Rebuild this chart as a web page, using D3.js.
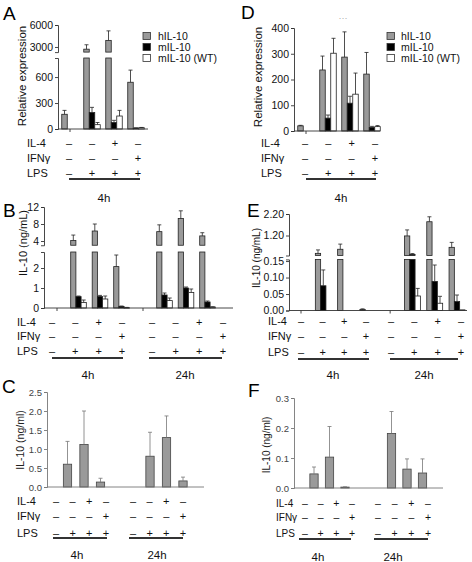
<!DOCTYPE html>
<html><head><meta charset="utf-8">
<script src="https://cdn.jsdelivr.net/npm/d3@7"></script>
<style>
body{margin:0;background:#fff}
svg{display:block}
text{font-family:"Liberation Sans",Arial,Helvetica,sans-serif}
</style>
</head><body>
<svg id="chart" width="472" height="562"></svg>
<script>
// ---------- shared labels ----------
const seriesNames = ["hIL-10", "mIL-10", "mIL-10 (WT)"];
const rowLabels = ["IL-4", "IFNγ", "LPS"];
const il4Signs = ["–", "–", "+", "–"];
const ifnSigns = ["–", "–", "–", "+"];
const lpsSigns = ["–", "+", "+", "+"];
const timeLabels = ["4h", "24h"];

// ---------- Panel A (relative expression, 4h) ----------
const aTicksLow = [0, 300, 600];
const aTicksHigh = [3000, 6000];
const aHIL = [170, 2700, 3900, 540];
const aHILsd = [45, 600, 1300, 140];
const aMIL = [0, 190, 75, 10];
const aMILsd = [0, 60, 25, 4];
const aWT = [0, 50, 150, 15];
const aWTsd = [0, 25, 65, 3];

// ---------- Panel D ----------
const dTicks = [0, 100, 200, 300, 400];
const dHIL = [20, 237, 287, 221];
const dHILsd = [2, 54, 98, 84];
const dMIL = [0, 50, 108, 14];
const dMILsd = [0, 12, 27, 4];
const dWT = [0, 302, 143, 17];
const dWTsd = [0, 58, 82, 4];

// ---------- Panel B (IL-10 ng/mL, 4h & 24h) ----------
const bTicksLow = [0, 1, 2];
const bTicksHigh = [4, 8, 12];
const bHIL = [0, 4.1, 6.35, 2.07, 0, 6.2, 9.3, 5.2];
const bHILsd = [0, 1.3, 1.65, 0.58, 0, 1.6, 1.8, 0.75];
const bMIL = [0, 0.57, 0.57, 0.08, 0, 0.65, 1.0, 0.3];
const bMILsd = [0, 0.03, 0.06, 0.02, 0, 0.1, 0.05, 0.05];
const bWT = [0, 0.28, 0.45, 0.02, 0, 0.37, 0.78, 0.05];
const bWTsd = [0, 0.12, 0.15, 0.01, 0, 0.13, 0.17, 0.01];

// ---------- Panel E ----------
const eTicksLow = [0, 0.05, 0.10, 0.15];
const eTicksHigh = [1.2, 2.2];
const eHIL = [0, 0.37, 0.56, 0.003, 0, 1.18, 1.84, 0.65];
const eHILsd = [0, 0.16, 0.24, 0.002, 0, 0.28, 0.23, 0.23];
const eMIL = [0, 0.075, 0, 0, 0, 0.32, 0.088, 0.027];
const eMILsd = [0, 0.048, 0, 0, 0, 0.04, 0.05, 0.02];
const eWT = [0, 0, 0, 0, 0, 0.044, 0.022, 0.002];
const eWTsd = [0, 0, 0, 0, 0, 0.023, 0.021, 0];

// ---------- Panel C ----------
const cTicks = [0, 0.5, 1.0, 1.5, 2.0, 2.5];
const cSlots = [0, 1, 2, 3, 5, 6, 7, 8];
const cVals = [0, 0.6, 1.12, 0.13, 0, 0.81, 1.3, 0.16];
const cSd = [0, 0.6, 0.88, 0.1, 0, 0.63, 0.57, 0.1];

// ---------- Panel F ----------
const fTicks = [0, 0.1, 0.2, 0.3];
const fSlots = [0, 1, 2, 3, 5, 6, 7, 8];
const fVals = [0, 0.047, 0.103, 0.003, 0, 0.182, 0.063, 0.05];
const fSd = [0, 0.023, 0.102, 0.001, 0, 0.073, 0.034, 0.047];

// =====================================================
const svg = d3.select("#chart");
const FILL = ["#9a9a9a", "#000000", "#ffffff"];

function makeY(loDom, loRange, hiDom, hiRange) {
  const lo = d3.scaleLinear().domain(loDom).range(loRange);
  const hi = hiDom ? d3.scaleLinear().domain(hiDom).range(hiRange) : null;
  const f = v => (hi && v > loDom[1]) ? hi(v) : lo(v);
  f.lo = lo; f.hi = hi; f.loMax = loDom[1];
  return f;
}

function drawBar(g, y, x, w, v, sd, fill, stroke, errColor) {
  const base = y.lo(0);
  if (v > 0) {
    if (!y.hi || v <= y.loMax) {
      g.append("rect").attr("x", x).attr("y", y.lo(v)).attr("width", w)
        .attr("height", Math.max(0.6, base - y.lo(v)))
        .attr("fill", fill).attr("stroke", stroke).attr("stroke-width", 0.8);
    } else {
      const loTop = y.lo.range()[1];
      g.append("rect").attr("x", x).attr("y", loTop).attr("width", w)
        .attr("height", base - loTop)
        .attr("fill", fill).attr("stroke", stroke).attr("stroke-width", 0.8);
      const hiBot = y.hi.range()[0];
      g.append("rect").attr("x", x).attr("y", y.hi(v)).attr("width", w)
        .attr("height", hiBot - y.hi(v))
        .attr("fill", fill).attr("stroke", stroke).attr("stroke-width", 0.8);
    }
  }
  if (sd > 0) {
    const cx = x + w / 2;
    const y0 = y(v), y1 = y(v + sd);
    g.append("line").attr("x1", cx).attr("x2", cx).attr("y1", y0).attr("y2", y1)
      .attr("stroke", errColor).attr("stroke-width", 0.8);
    g.append("line").attr("x1", cx - 2).attr("x2", cx + 2).attr("y1", y1).attr("y2", y1)
      .attr("stroke", errColor).attr("stroke-width", 0.8);
  }
}

function drawYAxis(g, x, scale, ticks, fmt, fontSize, color, textColor) {
  const ax = d3.axisLeft(scale).tickValues(ticks).tickSize(3).tickSizeOuter(3)
    .tickPadding(2).tickFormat(fmt);
  const a = g.append("g").attr("transform", `translate(${x},0)`).call(ax);
  a.attr("font-family", null).attr("font-size", null);
  a.selectAll("path").attr("stroke", color).attr("stroke-width", 0.9);
  a.selectAll("line").attr("stroke", color).attr("stroke-width", 0.9);
  a.selectAll("text").attr("font-size", fontSize).attr("fill", textColor);
}

function drawXAxis(g, x0, x1, yb, color, tickXs) {
  g.append("line").attr("x1", x0).attr("x2", x1).attr("y1", yb).attr("y2", yb)
    .attr("stroke", color).attr("stroke-width", 0.9);
  tickXs.forEach(tx => g.append("line").attr("x1", tx).attr("x2", tx)
    .attr("y1", yb).attr("y2", yb + 3).attr("stroke", color).attr("stroke-width", 0.9));
}

function yTitle(g, cx, cy, txt, fs, color) {
  g.append("text").attr("transform", `translate(${cx},${cy}) rotate(-90)`)
    .attr("text-anchor", "middle").attr("dy", "0.35em")
    .attr("font-size", fs).attr("fill", color || "#111").text(txt);
}

function letter(g, x, y, t) {
  g.append("text").attr("x", x).attr("y", y).attr("font-size", 19).attr("fill", "#000").text(t);
}

function signRows(g, labelX, rowYs, signXs, fs, color, labFs) {
  const signs = [il4Signs, ifnSigns, lpsSigns];
  rowLabels.forEach((lab, r) => {
    g.append("text").attr("x", labelX).attr("y", rowYs[r]).attr("dy", "0.35em")
      .attr("font-size", labFs || fs).attr("fill", color).text(lab);
    signXs.forEach((sx, i) => {
      g.append("text").attr("x", sx).attr("y", rowYs[r]).attr("dy", "0.35em")
        .attr("text-anchor", "middle").attr("font-size", fs).attr("fill", color)
        .text(signs[r][i % 4]);
    });
  });
}

function underline(g, x0, x1, y, lab, lx, ly, fs) {
  g.append("line").attr("x1", x0).attr("x2", x1).attr("y1", y).attr("y2", y)
    .attr("stroke", "#333").attr("stroke-width", 1.8);
  g.append("text").attr("x", lx).attr("y", ly).attr("dy", "0.35em").attr("text-anchor", "middle")
    .attr("font-size", fs).attr("fill", "#111").text(lab);
}

function legend(g, sqX, txtX, ys) {
  seriesNames.forEach((n, i) => {
    g.append("rect").attr("x", sqX).attr("y", ys[i] - 3.5).attr("width", 7.5).attr("height", 7)
      .attr("fill", FILL[i]).attr("stroke", "#333").attr("stroke-width", 0.8);
    g.append("text").attr("x", txtX).attr("y", ys[i]).attr("dy", "0.35em")
      .attr("font-size", 10.5).attr("fill", "#111").text(n);
  });
}

function groupedBars(g, y, gx, w, series) {
  series.forEach((s, j) => {
    s.vals.forEach((v, i) => {
      const x = gx(i) - 1.5 * w + j * w;
      drawBar(g, y, x, w, v, s.sd[i], FILL[j], "#222", "#222");
    });
  });
}

// ---------------- Panel A ----------------
{
  const g = svg.append("g");
  letter(g, 3, 20, "A");
  const y = makeY([0, 820], [129, 58], [2300, 6000], [52.1, 25]);
  const gx = d3.scaleLinear().domain([0, 3]).range([70, 136]);
  groupedBars(g, y, gx, 5.5, [{vals: aHIL, sd: aHILsd}, {vals: aMIL, sd: aMILsd}, {vals: aWT, sd: aWTsd}]);
  drawYAxis(g, 58, y.lo, aTicksLow, d3.format("d"), 10.5, "#333", "#111");
  drawYAxis(g, 58, y.hi, aTicksHigh, d3.format("d"), 10.5, "#333", "#111");
  drawXAxis(g, 58, 148, 129, "#333", [gx(0)]);
  yTitle(g, 22, 76, "Relative expression", 11.5);
  legend(g, 143, 158, [36, 47, 58]);
  const sx = d3.scaleLinear().domain([0, 3]).range([69, 138]);
  signRows(g, 27, [143, 158, 173], [0, 1, 2, 3].map(sx), 11, "#111");
  underline(g, 69, 140, 179, timeLabels[0], 104, 198, 11.5);
}

// ---------------- Panel D ----------------
{
  const g = svg.append("g");
  letter(g, 241, 19, "D");
  const y = makeY([0, 400], [131, 28]);
  const gx = d3.scaleLinear().domain([0, 3]).range([306, 372]);
  groupedBars(g, y, gx, 5.5, [{vals: dHIL, sd: dHILsd}, {vals: dMIL, sd: dMILsd}, {vals: dWT, sd: dWTsd}]);
  drawYAxis(g, 294, y.lo, dTicks, d3.format("d"), 10.5, "#333", "#111");
  drawXAxis(g, 294, 380, 131, "#333", [gx(0)]);
  yTitle(g, 258, 77, "Relative expression", 11.5);
  legend(g, 387, 401, [36, 47, 58]);
  g.append("text").attr("x", gx(2) - 7).attr("y", 21).attr("text-anchor", "middle")
    .attr("font-size", 9).attr("fill", "#aaa").text("···");
  const sx = d3.scaleLinear().domain([0, 3]).range([305, 375]);
  signRows(g, 261, [143, 158, 173], [0, 1, 2, 3].map(sx), 11, "#111");
  underline(g, 306, 376, 179, timeLabels[0], 341, 198, 11.5);
}

// ---------------- Panel B ----------------
{
  const g = svg.append("g");
  letter(g, 3, 217, "B");
  const y = makeY([0, 2.8], [308, 252], [3, 12], [245.25, 207]);
  const gx = d3.scaleLinear().domain([0, 7]).range([57, 207.5]);
  groupedBars(g, y, gx, 5.2, [{vals: bHIL, sd: bHILsd}, {vals: bMIL, sd: bMILsd}, {vals: bWT, sd: bWTsd}]);
  drawYAxis(g, 44, y.lo, bTicksLow, d3.format("d"), 10.5, "#333", "#111");
  drawYAxis(g, 44, y.hi, bTicksHigh, d3.format("d"), 10.5, "#333", "#111");
  drawXAxis(g, 44, 233, 308, "#333", [gx(0), gx(4)]);
  yTitle(g, 23, 243, "IL-10 (ng/mL)", 11);
  const s4 = d3.scaleLinear().domain([0, 3]).range([52, 122]);
  const s24 = d3.scaleLinear().domain([0, 3]).range([152, 223]);
  signRows(g, 17, [322, 336, 351], [0, 1, 2, 3].map(s4).concat([0, 1, 2, 3].map(s24)), 11, "#111");
  underline(g, 52, 123, 358, timeLabels[0], 88, 375, 11.5);
  underline(g, 149, 222, 358, timeLabels[1], 185, 375, 11.5);
}

// ---------------- Panel E ----------------
{
  const g = svg.append("g");
  letter(g, 247, 217, "E");
  const y = makeY([0, 0.155], [310.5, 259.4], [0.27, 2.2], [255.5, 214]);
  const gx = d3.scaleLinear().domain([0, 7]).range([301, 457]);
  groupedBars(g, y, gx, 5.3, [{vals: eHIL, sd: eHILsd}, {vals: eMIL, sd: eMILsd}, {vals: eWT, sd: eWTsd}]);
  drawYAxis(g, 289, y.lo, eTicksLow, d3.format(".2f"), 10.5, "#333", "#111");
  drawYAxis(g, 289, y.hi, eTicksHigh, d3.format(".2f"), 10.5, "#333", "#111");
  drawXAxis(g, 289, 467, 310.5, "#333", [gx(0), gx(4)]);
  yTitle(g, 256, 258, "IL-10 (ng/mL)", 10);
  const s4 = d3.scaleLinear().domain([0, 3]).range([301, 366]);
  const s24 = d3.scaleLinear().domain([0, 3]).range([391, 461]);
  signRows(g, 268, [321, 336, 352], [0, 1, 2, 3].map(s4).concat([0, 1, 2, 3].map(s24)), 11, "#111");
  underline(g, 298, 369, 359, timeLabels[0], 333, 375, 11.5);
  underline(g, 390, 458, 359, timeLabels[1], 424, 375, 11.5);
}

// ---------------- Panel C ----------------
{
  const g = svg.append("g");
  letter(g, 2, 393, "C");
  const y = makeY([0, 2.5], [487, 392]);
  const slot = d3.scaleLinear().domain([0, 8]).range([51, 183]);
  cVals.forEach((v, i) => drawBar(g, y, slot(cSlots[i]) - 4.15, 8.3, v, cSd[i], "#9a9a9a", "#444", "#777"));
  drawYAxis(g, 47, y.lo, cTicks, d3.format(".1f"), 9.5, "#777", "#444");
  drawXAxis(g, 47, 204, 487, "#777", []);
  yTitle(g, 20, 440, "IL-10 (ng/ml)", 10.5, "#222");
  const s4 = d3.scaleLinear().domain([0, 3]).range([56, 106]);
  const s24 = d3.scaleLinear().domain([0, 3]).range([133, 183]);
  signRows(g, 17, [501, 516, 533], [0, 1, 2, 3].map(s4).concat([0, 1, 2, 3].map(s24)), 11, "#111");
  underline(g, 53, 107, 538, timeLabels[0], 77, 555, 11.5);
  underline(g, 129, 183, 538, timeLabels[1], 157, 555, 11.5);
}

// ---------------- Panel F ----------------
{
  const g = svg.append("g");
  letter(g, 248, 397, "F");
  const y = makeY([0, 0.3], [488, 398]);
  const slot = d3.scaleLinear().domain([0, 8]).range([298.5, 422.5]);
  fVals.forEach((v, i) => drawBar(g, y, slot(fSlots[i]) - 4.15, 8.3, v, fSd[i], "#9a9a9a", "#444", "#777"));
  drawYAxis(g, 294, y.lo, fTicks, d3.format(".1f"), 9.5, "#777", "#444");
  drawXAxis(g, 294, 443, 488, "#777", []);
  yTitle(g, 266, 445, "IL-10 (ng/ml)", 10, "#222");
  const s4 = d3.scaleLinear().domain([0, 3]).range([305, 352]);
  const s24 = d3.scaleLinear().domain([0, 3]).range([378, 428]);
  signRows(g, 276, [503, 517, 533], [0, 1, 2, 3].map(s4).concat([0, 1, 2, 3].map(s24)), 10.5, "#111", 10);
  underline(g, 299, 351, 539, timeLabels[0], 318, 557, 11.5);
  underline(g, 374, 428, 539, timeLabels[1], 393, 557, 11.5);
}
</script>
</body></html>
